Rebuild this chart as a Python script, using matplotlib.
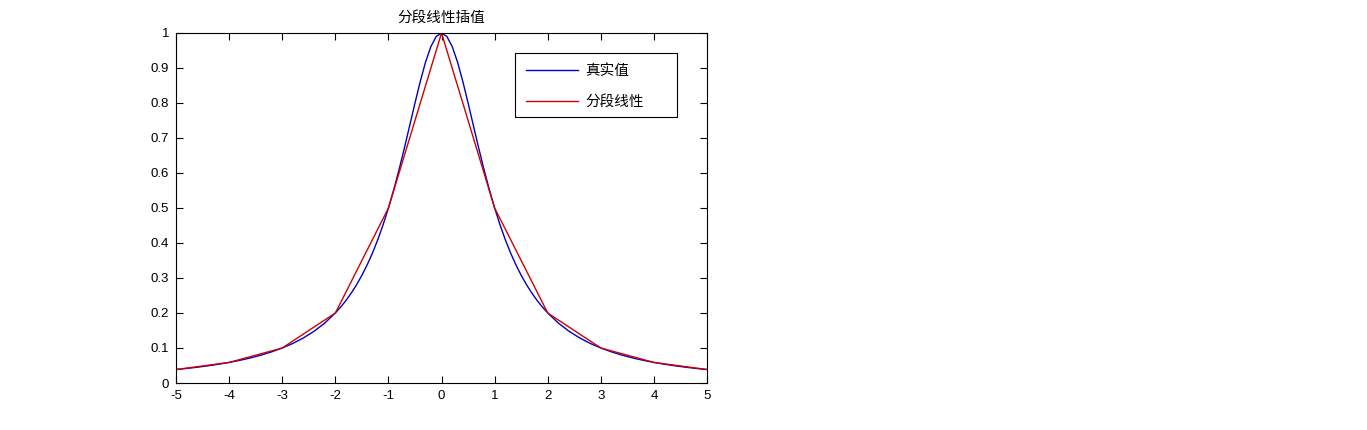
import matplotlib
matplotlib.use("Agg")
import matplotlib.pyplot as plt
from matplotlib.patches import Rectangle

plt.rcParams['font.family'] = ['Noto Sans CJK SC', 'DejaVu Sans']

# True curve values
x_true = [-5.0, -4.8, -4.6, -4.4, -4.2, -4.0, -3.8, -3.6, -3.4, -3.2, -3.0,
          -2.8, -2.6, -2.4, -2.2, -2.0, -1.9, -1.8, -1.7, -1.6, -1.5, -1.4,
          -1.3, -1.2, -1.1, -1.0, -0.9, -0.8, -0.7, -0.6, -0.5, -0.4, -0.3,
          -0.2, -0.1, 0.0, 0.1, 0.2, 0.3, 0.4, 0.5, 0.6, 0.7, 0.8, 0.9, 1.0,
          1.1, 1.2, 1.3, 1.4, 1.5, 1.6, 1.7, 1.8, 1.9, 2.0, 2.2, 2.4, 2.6,
          2.8, 3.0, 3.2, 3.4, 3.6, 3.8, 4.0, 4.2, 4.4, 4.6, 4.8, 5.0]
y_true = [0.0385, 0.0416, 0.0451, 0.0491, 0.0536, 0.0588, 0.0648, 0.0716,
          0.0796, 0.0890, 0.1000, 0.1131, 0.1289, 0.1479, 0.1712, 0.2000,
          0.2169, 0.2358, 0.2571, 0.2809, 0.3077, 0.3378, 0.3717, 0.4098,
          0.4525, 0.5000, 0.5525, 0.6098, 0.6711, 0.7353, 0.8000, 0.8621,
          0.9174, 0.9615, 0.9901, 1.0000, 0.9901, 0.9615, 0.9174, 0.8621,
          0.8000, 0.7353, 0.6711, 0.6098, 0.5525, 0.5000, 0.4525, 0.4098,
          0.3717, 0.3378, 0.3077, 0.2809, 0.2571, 0.2358, 0.2169, 0.2000,
          0.1712, 0.1479, 0.1289, 0.1131, 0.1000, 0.0890, 0.0796, 0.0716,
          0.0648, 0.0588, 0.0536, 0.0491, 0.0451, 0.0416, 0.0385]

# Piecewise linear interpolation nodes
x_nodes = [-5, -4, -3, -2, -1, 0, 1, 2, 3, 4, 5]
y_nodes = [0.0385, 0.0588, 0.1000, 0.2000, 0.5000, 1.0000, 0.5000, 0.2000,
           0.1000, 0.0588, 0.0385]

x_ticks = [-5, -4, -3, -2, -1, 0, 1, 2, 3, 4, 5]
y_ticks = [0, 0.1, 0.2, 0.3, 0.4, 0.5, 0.6, 0.7, 0.8, 0.9, 1]
y_ticklabels = ['0', '0.1', '0.2', '0.3', '0.4', '0.5', '0.6', '0.7', '0.8', '0.9', '1']

fig = plt.figure(figsize=(13.67, 4.30), dpi=100)
ax = fig.add_axes([0.1288, 0.1093, 0.3884, 0.814])

ax.plot(x_true, y_true, color='#0000c0', lw=1.0, label='真实值')
ax.plot(x_nodes, y_nodes, color='#d00000', lw=1.0, label='分段线性')

ax.set_xlim(-5, 5)
ax.set_ylim(0, 1)
ax.set_xticks(x_ticks)
ax.set_xticklabels([str(t) for t in x_ticks])
ax.set_yticks(y_ticks)
ax.set_yticklabels(y_ticklabels)
ax.tick_params(direction='in', length=5, width=0.8, top=True, right=True,
               labelsize=9.5)
ax.tick_params(axis='x', pad=5)
ax.tick_params(axis='y', pad=5)
for lab in ax.get_xticklabels() + ax.get_yticklabels():
    lab.set_family('Liberation Sans')
for s in ax.spines.values():
    s.set_linewidth(0.8)

ax.set_title('分段线性插值', fontsize=10.5, pad=8)

# legend box drawn explicitly in axes coordinates
ax.add_patch(Rectangle((0.6384, 0.760), 0.3051, 0.183, transform=ax.transAxes,
                       fill=True, facecolor='white', edgecolor='black',
                       lw=0.8, zorder=4))
leg = ax.legend(loc='upper left', bbox_to_anchor=(0.6384, 0.943),
                fontsize=10.5, frameon=False, handlelength=3.6,
                borderpad=0.75, borderaxespad=0, labelspacing=1.15,
                handletextpad=0.45)
leg.set_zorder(5)

fig.savefig('out.png', dpi=100)
